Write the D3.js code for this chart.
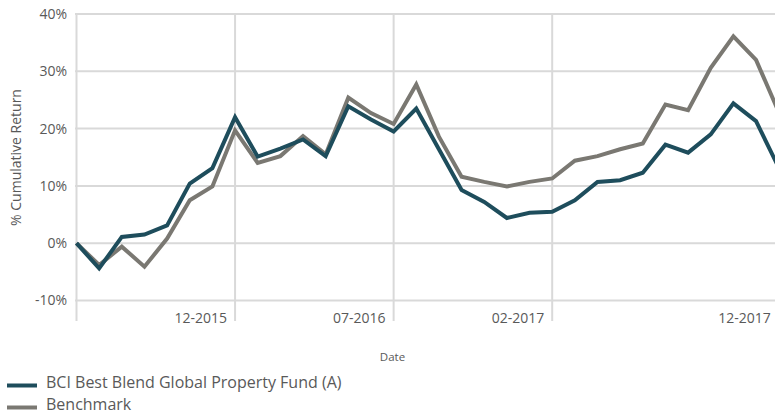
<!DOCTYPE html>
<html><head><meta charset="utf-8">
<script src="https://cdn.jsdelivr.net/npm/d3@7"></script>
<style>
html,body{margin:0;padding:0;background:#fff;overflow:hidden}
svg{display:block;overflow:hidden}
text{font-family:"Open Sans",sans-serif;fill:#595959}
</style></head><body>
<script>
const months = ["05-2015","06-2015","07-2015","08-2015","09-2015","10-2015","11-2015","12-2015",
"01-2016","02-2016","03-2016","04-2016","05-2016","06-2016","07-2016","08-2016","09-2016","10-2016","11-2016","12-2016",
"01-2017","02-2017","03-2017","04-2017","05-2017","06-2017","07-2017","08-2017","09-2017","10-2017","11-2017","12-2017"];
const fund = [0, -4.4, 1.1, 1.5, 3.1, 10.4, 13.1, 22.0, 15.1, 16.5, 18.1, 15.2, 23.9, 21.6, 19.5, 23.5, 16.4, 9.3, 7.2, 4.4, 5.3, 5.5, 7.5, 10.7, 11.0, 12.3, 17.2, 15.8, 19.0, 24.4, 21.3, 13.2];
const bench = [0, -3.8, -0.6, -4.1, 0.8, 7.5, 9.9, 19.7, 14.0, 15.2, 18.7, 15.5, 25.4, 22.7, 20.8, 27.7, 18.6, 11.6, 10.7, 9.9, 10.7, 11.3, 14.4, 15.2, 16.4, 17.4, 24.2, 23.2, 30.6, 36.1, 32.0, 22.9];
const xTicks = ["12-2015","07-2016","02-2017","12-2017"];
const yTicks = [-10, 0, 10, 20, 30, 40];
const seriesNames = ["BCI Best Blend Global Property Fund (A)", "Benchmark"];
const colors = ["#1e4d5c", "#7a7872"];

const W = 775, H = 414;
const svg = d3.select("body").append("svg").attr("width", W).attr("height", H);

const x = d3.scalePoint().domain(months).range([76.5, 778.7]);
const y = d3.scaleLinear().domain([-10, 40]).range([300.5, 14]);

const grid = "#d9d9d9";
svg.append("g").selectAll("line").data(yTicks).join("line")
  .attr("x1", 75).attr("x2", W).attr("y1", d => y(d)).attr("y2", d => y(d))
  .attr("stroke", grid).attr("stroke-width", 2);
const vx = [x(months[0])].concat(xTicks.map(t => x(t)));
svg.append("g").selectAll("line").data(vx).join("line")
  .attr("x1", d => d).attr("x2", d => d).attr("y1", 13).attr("y2", 321)
  .attr("stroke", grid).attr("stroke-width", 2);

svg.append("g").selectAll("text").data(yTicks).join("text")
  .attr("x", 67).attr("y", d => y(d)).attr("dy", "0.35em")
  .attr("text-anchor", "end").style("font-size", "14px")
  .text(d => d + "%");
svg.append("g").selectAll("text").data(xTicks).join("text")
  .attr("x", d => x(d) - 8).attr("y", 318).attr("dy", "0.35em")
  .attr("text-anchor", "end").style("font-size", "14px")
  .text(d => d);

svg.append("text").attr("transform", "translate(16,157.5) rotate(-90)")
  .attr("text-anchor", "middle").attr("dy", "0.35em").style("font-size", "14px")
  .text("% Cumulative Return");
svg.append("text").attr("x", 392.5).attr("y", 357).attr("dy", "0.35em")
  .attr("text-anchor", "middle").style("font-size", "11.5px").text("Date");

const line = d3.line().x((d, i) => x(months[i])).y(d => y(d));
[bench, fund].forEach((s, j) => {
  svg.append("path").datum(s).attr("d", line).attr("fill", "none")
    .attr("stroke", colors[1 - j]).attr("stroke-width", 4).attr("stroke-linejoin", "miter");
});

const lg = svg.append("g");
seriesNames.forEach((n, i) => {
  const sy = 385.5 + i * 22;
  const by = 388 + i * 21.5;
  lg.append("line").attr("x1", 7).attr("x2", 37).attr("y1", sy).attr("y2", sy)
    .attr("stroke", colors[i]).attr("stroke-width", 4);
  lg.append("text").attr("x", 46).attr("y", by)
    .style("font-size", "16px").text(n);
});
</script>
</body></html>
